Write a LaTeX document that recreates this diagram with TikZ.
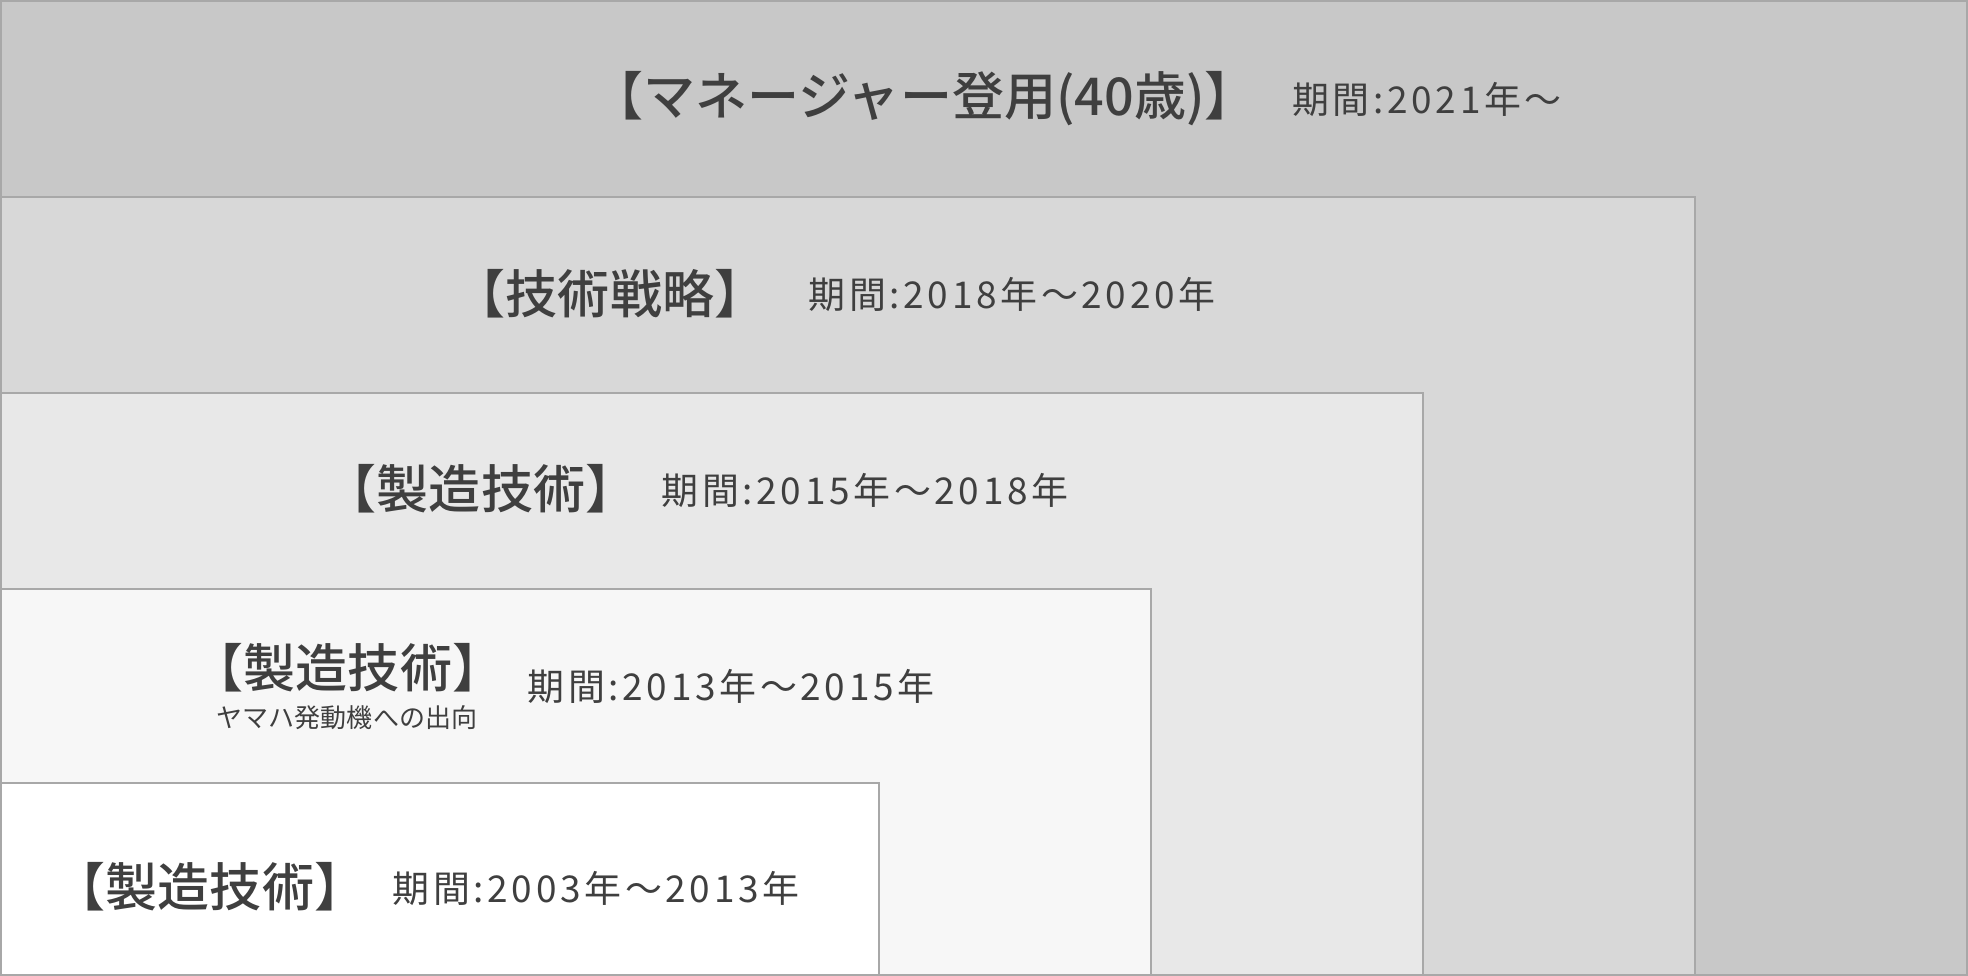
\documentclass[tikz,border=0pt]{standalone}
\usepackage{fontspec}
\setmainfont{Noto Sans CJK JP}
\newfontfamily\headfont{Noto Sans CJK JP Medium}
\newfontfamily\termfont[LetterSpace=10]{Noto Sans CJK JP}
\definecolor{bandA}{HTML}{C8C8C8}
\definecolor{bandB}{HTML}{D8D8D8}
\definecolor{bandC}{HTML}{E8E8E8}
\definecolor{bandD}{HTML}{F7F7F7}
\definecolor{bandE}{HTML}{FFFFFF}
\definecolor{edgegray}{HTML}{A8A8A8}
\definecolor{inkgray}{HTML}{3F3F3F}
\tikzset{
  band/.style={draw=edgegray, line width=0.02cm},
  headtext/.style={inner sep=0pt, text=inkgray, font=\headfont\fontsize{14.8}{16}\selectfont},
  termtext/.style={inner sep=0pt, text=inkgray, font=\termfont\fontsize{10.5}{12}\selectfont},
  subtext/.style={inner sep=0pt, text=inkgray, font=\fontsize{7.4}{9}\selectfont}
}
\begin{document}
\begin{tikzpicture}[x=0.01cm, y=-0.01cm]
    \def\W{1968}
    \def\H{976}

    \def\xb{1695}
    \def\xc{1423}
    \def\xd{1151}
    \def\xe{879}

    \def\yb{197}
    \def\yc{393}
    \def\yd{589}
    \def\ye{783}

    \useasboundingbox (0,0) rectangle (\W,\H);

    % nested periods, oldest in front
    \draw[band, fill=bandA] (1,1) rectangle (\W-1,\H-1);
    \draw[band, fill=bandB] (1,\yb) rectangle (\xb,\H-1);
    \draw[band, fill=bandC] (1,\yc) rectangle (\xc,\H-1);
    \draw[band, fill=bandD] (1,\yd) rectangle (\xd,\H-1);
    \draw[band, fill=bandE] (1,\ye) rectangle (\xe,\H-1);

    \node[headtext] (mgr) at (924,99) {【マネージャー登用(40歳)】};
    \node[termtext] (mgrterm) at (1427,99) {期間:2021年〜};

    \node[headtext] (strat) at (610,294) {【技術戦略】};
    \node[termtext] (stratterm) at (1012,294) {期間:2018年〜2020年};

    \node[headtext] (mfgc) at (481,489) {【製造技術】};
    \node[termtext] (mfgcterm) at (865,490) {期間:2015年〜2018年};

    \node[headtext] (mfgb) at (348,668) {【製造技術】};
    \node[subtext] (yamaha) at (347,718) {ヤマハ発動機への出向};
    \node[termtext] (mfgbterm) at (731,686) {期間:2013年〜2015年};

    \node[headtext] (mfga) at (210,887) {【製造技術】};
    \node[termtext] (mfgaterm) at (596,888) {期間:2003年〜2013年};
\end{tikzpicture}
\end{document}
